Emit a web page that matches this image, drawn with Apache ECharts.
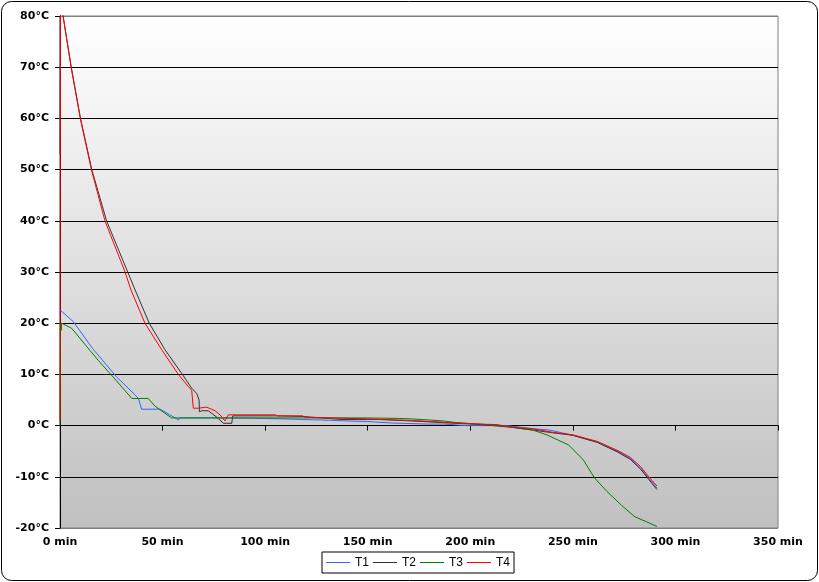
<!DOCTYPE html>
<html>
<head>
<meta charset="utf-8">
<script src="https://cdn.jsdelivr.net/npm/echarts@6/dist/echarts.min.js"></script>
<style>
html,body{margin:0;padding:0;background:#fff;}
#chart{width:819px;height:582px;}
</style>
</head>
<body>
<div id="chart"></div>
<script>
// Series names
const seriesNames = ['T1', 'T2', 'T3', 'T4'];

// T1 (minutes, °C)
const t1Time = [0, 0.5, 6.5, 16, 27.6, 36.6, 38.2, 39.8, 48.8, 57.8, 58.2, 82, 100, 117, 127, 141, 150, 162, 179, 187, 198, 218, 228, 239, 250, 262, 272, 278, 283, 287, 291];
const t1Val  = [22.6, 22.6, 20.3, 15, 9.5, 6, 5.3, 3.2, 3.2, 1.1, 1.5, 1.5, 1.4, 1.2, 1.1, 0.9, 0.8, 0.5, 0.3, 0.3, 0, 0, -0.5, -0.9, -1.9, -3.2, -5.1, -6.4, -8.3, -10.3, -12.2];

// T2
const t2Time = [0, 0.2, 1.5, 5.5, 10, 15.5, 22.7, 33, 36.6, 43.5, 51.2, 59.3, 64.2, 66.6, 67.8, 68, 69, 72.3, 77.2, 79.6, 83.7, 84.2, 105, 118, 137, 155, 172, 190, 205, 214, 224, 240, 250, 262, 272, 278, 283, 287, 291];
const t2Val  = [53, 95, 80, 70, 60, 50, 40, 30, 26.5, 20, 14.8, 10.2, 7.3, 6.3, 5, 2.7, 2.9, 2.9, 1.4, 0.45, 0.45, 1.9, 1.9, 1.8, 1.2, 1.2, 0.9, 0.5, 0.2, -0.1, -0.5, -1.4, -1.9, -3.3, -5.2, -6.6, -8.5, -10.5, -12.5];

// T3
const t3Time = [0, 0.2, 0.6, 0.8, 5.7, 18.7, 24.8, 35, 43, 46.3, 54.4, 85, 150, 165, 172, 180, 187, 193, 203, 213, 223, 230.7, 237.3, 248, 255.1, 260.5, 266.5, 273.8, 280.2, 286, 291];
const t3Val  = [0, 20, 18.6, 20, 19, 12.7, 10, 5.3, 5.3, 3.8, 1.5, 1.5, 1.5, 1.4, 1.3, 1.1, 0.9, 0.6, 0.3, 0.2, -0.5, -0.9, -1.8, -3.8, -6.7, -10.2, -12.8, -15.6, -17.8, -18.8, -19.7];

// T4
const t4Time = [0, 0.2, 1.5, 5.4, 9.9, 15.3, 21.9, 31.7, 34.6, 41.4, 49.6, 57.7, 62.6, 64.2, 65, 67.4, 71.5, 75.6, 78, 80.4, 81.3, 82, 105, 106, 118, 120, 133, 150, 172, 190, 205, 214, 224, 230, 240, 250, 262, 272, 278, 283, 287, 291];
const t4Val  = [1, 95, 80, 70, 60, 50, 40, 30, 26.5, 20, 14.8, 10, 7.6, 6.9, 3.4, 3.4, 3.6, 2.9, 2.1, 0.9, 1.0, 2.1, 2.1, 1.9, 1.9, 1.6, 1.5, 1.3, 1.0, 0.6, 0.3, 0, -0.4, -0.6, -1.3, -1.8, -3.1, -4.9, -6.2, -8, -10, -11.8];

const seriesColors = ['#3366ff', '#333333', '#008000', '#ff0000'];
const times = [t1Time, t2Time, t3Time, t4Time];
const vals = [t1Val, t2Val, t3Val, t4Val];

function pairs(t, v) { return t.map((x, i) => [x, v[i]]); }

const chart = echarts.init(document.getElementById('chart'), null, {renderer: 'canvas'});

const yLineColors = [];
for (let v = -20; v <= 80; v += 10) yLineColors.push((v === -20 || v === 80) ? '#808080' : '#000000');

const option = {
  animation: false,
  backgroundColor: '#ffffff',
  graphic: [{
    type: 'rect',
    shape: {x: 1.5, y: 1.5, width: 816, height: 579, r: 10},
    style: {fill: 'none', stroke: '#000', lineWidth: 1},
    z: -1
  }],
  grid: {
    left: 60, top: 16, right: 41, bottom: 54,
    show: true,
    backgroundColor: new echarts.graphic.LinearGradient(0, 0, 0, 1, [
      {offset: 0, color: '#ffffff'},
      {offset: 1, color: '#c0c0c0'}
    ]),
    borderColor: '#808080',
    borderWidth: 1
  },
  legend: {
    data: seriesNames.map(n => ({name: n, icon: 'rect'})),
    left: 322, top: 552,
    itemWidth: 24, itemHeight: 1, itemGap: 4,
    padding: [3, 4, 3, 4],
    borderColor: '#000', borderWidth: 1, borderRadius: 0,
    backgroundColor: '#fff',
    itemStyle: {borderWidth: 0},
    lineStyle: {width: 0},
    textStyle: {fontFamily: '"Liberation Sans", Arial, sans-serif', fontSize: 12, color: '#000', lineHeight: 15}
  },
  xAxis: {
    type: 'value', min: 0, max: 350, interval: 50,
    axisLine: {onZero: true, lineStyle: {color: '#000', width: 1}},
    axisTick: {show: true, length: 5, inside: false, lineStyle: {color: '#000'}},
    axisLabel: {formatter: '{value} min', fontFamily: '"DejaVu Sans", Verdana, sans-serif', fontWeight: 'bold', fontSize: 11, color: '#000', margin: 9},
    splitLine: {show: false}
  },
  yAxis: {
    type: 'value', min: -20, max: 80, interval: 10,
    axisLine: {show: true, lineStyle: {color: '#000', width: 1}},
    axisTick: {show: true, length: 5, lineStyle: {color: '#000'}},
    axisLabel: {formatter: '{value}°C', fontFamily: '"DejaVu Sans", Verdana, sans-serif', fontWeight: 'bold', fontSize: 11, color: '#000', margin: 11},
    splitLine: {show: true, lineStyle: {color: yLineColors, width: 1}}
  },
  series: seriesNames.map((name, i) => ({
    name: name,
    type: 'line',
    data: pairs(times[i], vals[i]),
    symbol: 'none',
    showSymbol: false,
    clip: true,
    color: seriesColors[i],
    itemStyle: {color: seriesColors[i]},
    lineStyle: {color: seriesColors[i], width: 1},
    emphasis: {disabled: true}
  }))
};
chart.setOption(option);
</script>
</body>
</html>
